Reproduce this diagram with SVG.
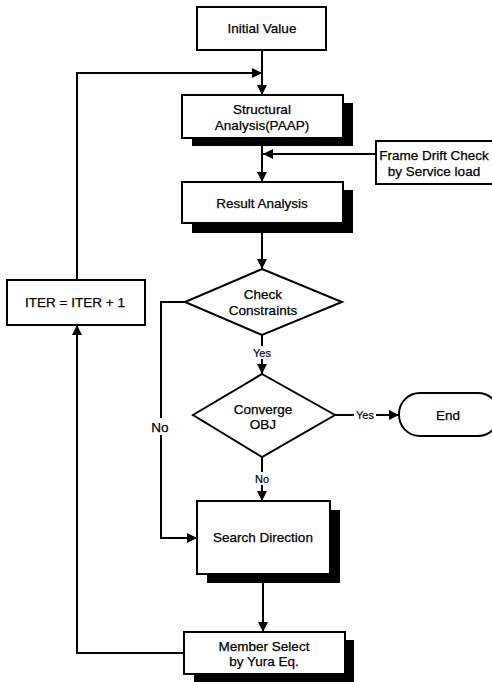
<svg xmlns="http://www.w3.org/2000/svg" width="492" height="682" viewBox="0 0 492 682">
<defs>
<style>
.box{fill:#fff;stroke:#000;stroke-width:2}
.sh{fill:#000}
.t{font-family:"Liberation Sans",Arial,sans-serif;font-size:13.5px;fill:#000;text-anchor:middle;stroke:#000;stroke-width:0.25}
.s{font-family:"Liberation Sans",Arial,sans-serif;font-size:11px;fill:#000;text-anchor:middle;stroke:#000;stroke-width:0.2}
.ln{fill:none;stroke:#000;stroke-width:2}
</style>
<marker id="ah" viewBox="0 0 10 10" refX="10" refY="5" markerWidth="5" markerHeight="5" orient="auto" markerUnits="strokeWidth">
<path d="M0,0 L10,5 L0,10 z" fill="#000"/>
</marker>
</defs>
<rect width="492" height="682" fill="#fff"/>
<g id="connectors">
<path class="ln" d="M262,50 V95" marker-end="url(#ah)"/>
<path class="ln" d="M77,280 V73 H262" marker-end="url(#ah)"/>
<path class="ln" d="M262,146 V182" marker-end="url(#ah)"/>
<path class="ln" d="M376,154 H263" marker-end="url(#ah)"/>
<path class="ln" d="M262,233 V269" marker-end="url(#ah)"/>
<path class="ln" d="M262,335 V374" marker-end="url(#ah)"/>
<path class="ln" d="M335,415 H399" marker-end="url(#ah)"/>
<path class="ln" d="M262,457 V501" marker-end="url(#ah)"/>
<path class="ln" d="M185,302 H161 V538 H197" marker-end="url(#ah)"/>
<path class="ln" d="M263,583 V632" marker-end="url(#ah)"/>
<path class="ln" d="M184,653 H77 V325" marker-end="url(#ah)"/>
<rect x="252" y="346" width="21" height="13" fill="#fff"/>
<text class="s" x="262" y="357">Yes</text>
<rect x="354" y="408" width="22" height="13" fill="#fff"/>
<text class="s" x="365" y="419">Yes</text>
<rect x="253" y="472" width="18" height="13" fill="#fff"/>
<text class="s" x="262" y="483">No</text>
<rect x="150" y="418" width="22" height="17" fill="#fff"/>
<text class="t" x="160" y="432">No</text>
</g>
<g id="initial">
<rect class="box" x="197" y="7" width="129" height="43"/>
<text class="t" x="262" y="33">Initial Value</text>
</g>
<g id="structural">
<rect class="sh" x="192" y="103" width="161" height="43"/>
<rect class="box" x="182" y="95" width="161" height="43"/>
<text class="t" x="262" y="114">Structural</text>
<text class="t" x="262" y="130">Analysis(PAAP)</text>
</g>
<g id="framedrift">
<rect class="box" x="376" y="141" width="120" height="43"/>
<text class="t" x="434" y="160">Frame Drift Check</text>
<text class="t" x="434" y="176">by Service load</text>
</g>
<g id="result">
<rect class="sh" x="192" y="190" width="161" height="43"/>
<rect class="box" x="182" y="182" width="161" height="41"/>
<text class="t" x="262" y="208">Result Analysis</text>
</g>
<g id="check">
<polygon class="box" points="262,269 342,302 262,335 185,302"/>
<text class="t" x="263" y="299">Check</text>
<text class="t" x="263" y="315">Constraints</text>
</g>
<g id="iter">
<rect class="box" x="7" y="280" width="138" height="45"/>
<text class="t" x="75" y="307">ITER = ITER + 1</text>
</g>
<g id="converge">
<polygon class="box" points="262,374 335,415 262,457 193,415"/>
<text class="t" x="263" y="414">Converge</text>
<text class="t" x="263" y="429">OBJ</text>
</g>
<g id="end">
<rect class="box" x="399" y="393" width="100" height="43" rx="21" ry="21"/>
<text class="t" x="448" y="420">End</text>
</g>
<g id="search">
<rect class="sh" x="207" y="510" width="133" height="73"/>
<rect class="box" x="197" y="501" width="133" height="73"/>
<text class="t" x="263" y="542">Search Direction</text>
</g>
<g id="member">
<rect class="sh" x="194" y="640" width="160" height="42"/>
<rect class="box" x="184" y="632" width="161" height="42"/>
<text class="t" x="264" y="651">Member Select</text>
<text class="t" x="264" y="666">by Yura Eq.</text>
</g>
</svg>
